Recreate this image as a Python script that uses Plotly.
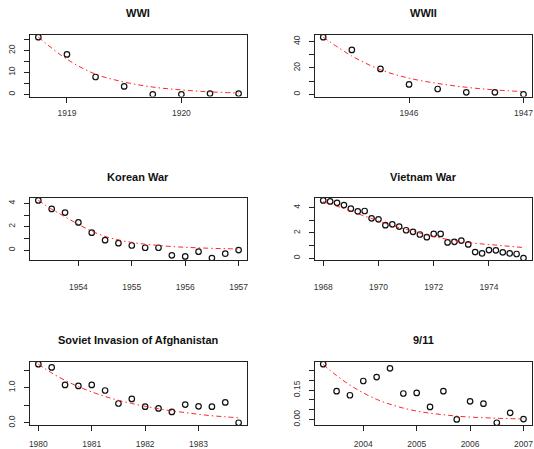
import plotly.graph_objects as go

# ---------------- data ----------------
titles = ["WWI", "WWII", "Korean War", "Vietnam War",
          "Soviet Invasion of Afghanistan", "9/11"]

wwi_t = [1918.75, 1919.0, 1919.25, 1919.5, 1919.75, 1920.0, 1920.25, 1920.5]
wwi_y = [26.1, 18.2, 7.9, 3.6, 0.0, 0.0, 0.3, 0.3]
wwi_fit = [26.1, 16.0, 9.2, 5.6, 3.3, 2.0, 1.1, 0.6]

wwii_t = [1945.25, 1945.5, 1945.75, 1946.0, 1946.25, 1946.5, 1946.75, 1947.0]
wwii_y = [43.3, 33.6, 19.2, 7.5, 4.0, 1.5, 1.5, 0.0]
wwii_fit = [43.3, 29.0, 18.6, 12.2, 8.2, 5.3, 3.3, 2.0]

kor_t = [1953.25, 1953.5, 1953.75, 1954.0, 1954.25, 1954.5, 1954.75, 1955.0,
         1955.25, 1955.5, 1955.75, 1956.0, 1956.25, 1956.5, 1956.75, 1957.0]
kor_y = [4.25, 3.52, 3.21, 2.37, 1.49, 0.85, 0.59, 0.39,
         0.20, 0.20, -0.45, -0.54, -0.14, -0.68, -0.31, 0.0]
kor_fit = [4.25, 3.5, 2.85, 2.2, 1.62, 1.17, 0.87, 0.66,
           0.5, 0.4, 0.3, 0.24, 0.19, 0.15, 0.12, 0.09]

vie_t = [1968.0, 1968.25, 1968.5, 1968.75, 1969.0, 1969.25, 1969.5, 1969.75,
         1970.0, 1970.25, 1970.5, 1970.75, 1971.0, 1971.25, 1971.5, 1971.75,
         1972.0, 1972.25, 1972.5, 1972.75, 1973.0, 1973.25, 1973.5, 1973.75,
         1974.0, 1974.25, 1974.5, 1974.75, 1975.0, 1975.25]
vie_y = [4.58, 4.5, 4.39, 4.21, 3.92, 3.71, 3.74, 3.16, 3.08, 2.61, 2.68, 2.5,
         2.21, 2.08, 1.87, 1.66, 1.92, 1.92, 1.24, 1.29, 1.39, 1.08, 0.47, 0.37,
         0.63, 0.61, 0.45, 0.37, 0.32, 0.0]
vie_fit = [4.47, 4.29, 4.12, 3.93, 3.73, 3.53, 3.33, 3.14, 2.95, 2.76, 2.57, 2.42,
           2.28, 2.13, 1.98, 1.83, 1.71, 1.59, 1.48, 1.39, 1.30, 1.23, 1.17, 1.12,
           1.07, 1.03, 0.98, 0.93, 0.88, 0.83]

afg_t = [1980.0, 1980.25, 1980.5, 1980.75, 1981.0, 1981.25, 1981.5, 1981.75,
         1982.0, 1982.25, 1982.5, 1982.75, 1983.0, 1983.25, 1983.5, 1983.75]
afg_y = [1.67, 1.58, 1.08, 1.05, 1.08, 0.92, 0.55, 0.68,
         0.46, 0.41, 0.31, 0.52, 0.47, 0.46, 0.58, 0.0]
afg_fit = [1.67, 1.42, 1.21, 1.03, 0.88, 0.75, 0.64, 0.55,
           0.47, 0.40, 0.34, 0.29, 0.24, 0.20, 0.17, 0.14]

nine_t = [2003.25, 2003.5, 2003.75, 2004.0, 2004.25, 2004.5, 2004.75, 2005.0,
          2005.25, 2005.5, 2005.75, 2006.0, 2006.25, 2006.5, 2006.75, 2007.0]
nine_y = [0.283, 0.145, 0.124, 0.197, 0.217, 0.262, 0.133, 0.136,
          0.064, 0.145, 0.0, 0.093, 0.081, -0.017, 0.034, 0.002]
nine_fit = [0.281, 0.225, 0.176, 0.136, 0.103, 0.078, 0.058, 0.043,
            0.032, 0.024, 0.017, 0.012, 0.009, 0.006, 0.004, 0.003]

x_ticks = [[1919, 1920], [1946, 1947], [1954, 1955, 1956, 1957],
           [1968, 1970, 1972, 1974], [1980, 1981, 1982, 1983],
           [2004, 2005, 2006, 2007]]
y_ticks = [[0, 5, 10, 15, 20, 25], [0, 10, 20, 30, 40], [0, 1, 2, 3, 4],
           [0, 1, 2, 3, 4], [0.0, 0.5, 1.0, 1.5],
           [0.0, 0.05, 0.10, 0.15, 0.20, 0.25]]
y_labels = [["0", "", "10", "", "20", ""], ["0", "", "20", "", "40"],
            ["0", "", "2", "", "4"], ["0", "", "2", "", "4"],
            ["0.0", "", "1.0", ""], ["0.00", "", "", "0.15", "", ""]]

panels = [(wwi_t, wwi_y, wwi_fit), (wwii_t, wwii_y, wwii_fit),
          (kor_t, kor_y, kor_fit), (vie_t, vie_y, vie_fit),
          (afg_t, afg_y, afg_fit), (nine_t, nine_y, nine_fit)]

# ---------------- layout geometry (pixels) ----------------
W, H = 534, 449
col_px = [(29.5, 247.0), (316.0, 533.5)]
row_px = [(35.0, 97.0), (199.0, 261.5), (363.5, 427.0)]
title_py = [13.3, 177.3, 341.7]
xstand = [3, 13, 6]

fig = go.Figure()
layout = dict(width=W, height=H, margin=dict(l=0, r=0, t=0, b=0),
              paper_bgcolor="white", plot_bgcolor="white", showlegend=False,
              annotations=[])

def ext(v):
    lo, hi = min(v), max(v)
    d = (hi - lo) * 0.04
    return [lo - d, hi + d]

for i, (t, y, f) in enumerate(panels):
    r, c = divmod(i, 2)
    n = "" if i == 0 else str(i + 1)
    xa, ya = "x" + n, "y" + n
    fig.add_trace(go.Scatter(x=t, y=y, mode="markers", xaxis=xa, yaxis=ya,
                             marker=dict(symbol="circle-open", size=5.5,
                                         color="#111", line=dict(width=1.2))))
    fig.add_trace(go.Scatter(x=t, y=f, mode="lines", xaxis=xa, yaxis=ya,
                             line=dict(color="rgba(255,0,0,0.85)", width=1,
                                       dash="5px,3px,1.5px,3px", shape="spline")))
    x0, x1 = col_px[c]
    top, bot = row_px[r]
    axcommon = dict(showline=True, mirror=True, linecolor="#222", linewidth=1,
                    ticks="outside", ticklen=5, tickwidth=1, tickcolor="#222",
                    showgrid=False, zeroline=False,
                    tickfont=dict(family="Liberation Sans", size=8.5, color="#333"))
    layout["xaxis" + n] = dict(axcommon, domain=[x0 / W, x1 / W], anchor=ya,
                               range=ext(t), tickmode="array",
                               tickvals=x_ticks[i],
                               ticktext=[str(v) for v in x_ticks[i]],
                               ticklabelstandoff=xstand[r])
    layout["yaxis" + n] = dict(axcommon, domain=[1 - bot / H, 1 - top / H],
                               anchor=xa, range=ext(y), tickmode="array",
                               tickvals=y_ticks[i], ticktext=y_labels[i],
                               tickangle=-90, ticklabelstandoff=6)
    layout["annotations"].append(dict(
        text="<b>" + titles[i] + "</b>", xref="paper", yref="paper",
        x=(x0 + x1) / 2 / W, y=1 - title_py[r] / H, xanchor="center",
        yanchor="middle", showarrow=False,
        font=dict(family="Liberation Sans", size=11, color="#111")))

fig.update_layout(**layout)
fig.write_html("out.html")
